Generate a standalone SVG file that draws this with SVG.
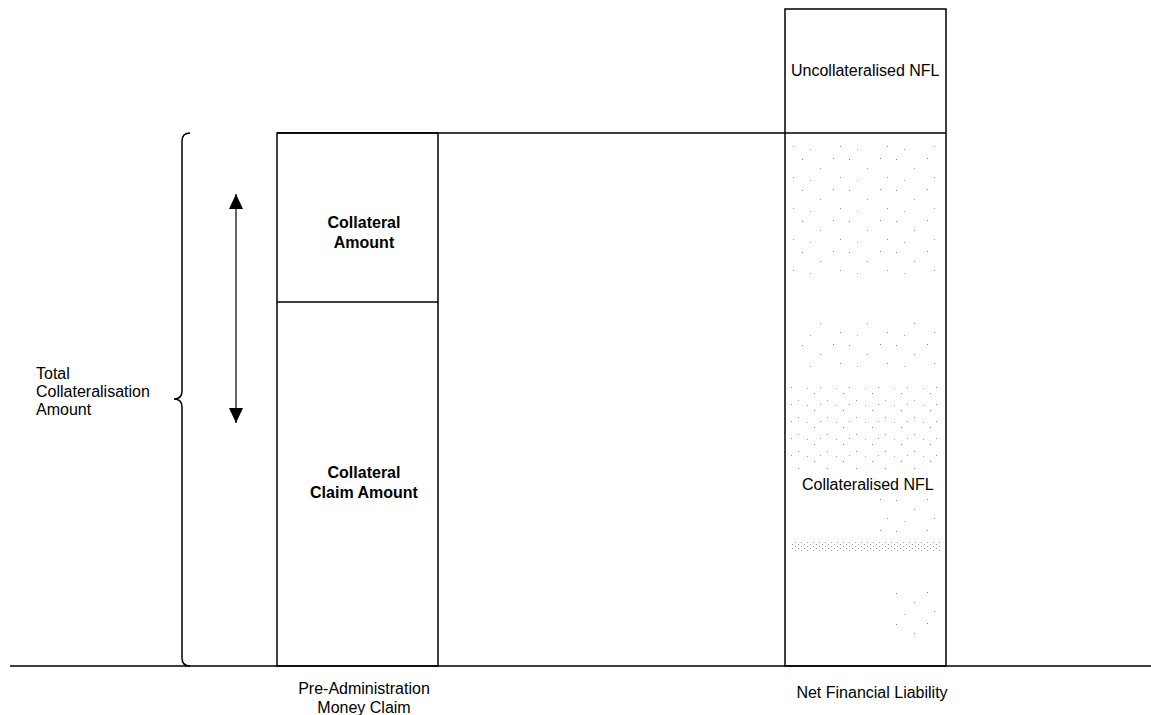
<svg xmlns="http://www.w3.org/2000/svg" width="1151" height="715" viewBox="0 0 1151 715">
  <defs>
    <style>
      .ln { fill: none; stroke: #000; stroke-width: 1.5; }
      .t { font-family: "Liberation Sans", Arial, sans-serif; font-size: 16px; fill: #000; }
      .b { font-weight: bold; text-anchor: middle; }
      .c { text-anchor: middle; }
    </style>
    <marker id="head" viewBox="0 0 15 14" refX="15" refY="7" markerWidth="15" markerHeight="14" markerUnits="userSpaceOnUse" orient="auto-start-reverse">
      <path d="M0,0 L15,7 L0,14 Z" fill="#000"/>
    </marker>
    <!-- sparse stipple used as shading of the collateralised part -->
    <pattern id="sparse" width="47" height="31" patternUnits="userSpaceOnUse">
      <rect x="3" y="4" width="1" height="1" fill="#888"/>
      <rect x="21" y="13" width="1" height="1" fill="#999"/>
      <rect x="34" y="3" width="1" height="1" fill="#888"/>
      <rect x="41" y="22" width="1" height="1" fill="#999"/>
      <rect x="11" y="25" width="1" height="1" fill="#aaa"/>
    </pattern>
    <pattern id="medium" width="29" height="17" patternUnits="userSpaceOnUse">
      <rect x="2" y="2" width="1" height="1" fill="#888"/>
      <rect x="15" y="9" width="1" height="1" fill="#999"/>
      <rect x="24" y="14" width="1" height="1" fill="#aaa"/>
      <rect x="8" y="13" width="1" height="1" fill="#999"/>
    </pattern>
    <pattern id="dense" width="6" height="4" patternUnits="userSpaceOnUse">
      <rect x="0" y="0" width="1" height="1" fill="#999"/>
      <rect x="3" y="2" width="1" height="1" fill="#aaa"/>
    </pattern>
  </defs>

  <!-- stippled shading inside the NFL bar -->
  <g id="shading">
    <rect x="790" y="140" width="152" height="140" fill="url(#sparse)"/>
    <rect x="795" y="320" width="145" height="50" fill="url(#sparse)"/>
    <rect x="790" y="385" width="152" height="85" fill="url(#medium)"/>
    <rect x="880" y="495" width="60" height="40" fill="url(#sparse)"/>
    <rect x="792" y="541" width="150" height="11" fill="url(#dense)"/>
    <rect x="890" y="590" width="50" height="50" fill="url(#sparse)"/>
  </g>

  <!-- axis baseline and shared top line -->
  <g id="connectors">
    <line class="ln" x1="10" y1="666" x2="1151" y2="666"/>
    <line class="ln" x1="277" y1="133" x2="946" y2="133"/>
    <!-- double-headed arrow -->
    <line class="ln" x1="236" y1="194" x2="236" y2="423" marker-start="url(#head)" marker-end="url(#head)" style="stroke-width:1.2"/>
    <!-- curly brace -->
    <path class="ln" d="M190,133 Q182,133 182,141 L182,391 Q182,399 174,399 Q182,399 182,407 L182,658 Q182,666 190,666"/>
  </g>

  <g id="pre-administration-claim">
    <rect class="ln" x="277" y="133" width="161" height="533"/>
    <line class="ln" x1="277" y1="302" x2="438" y2="302"/>
  </g>

  <g id="collateral-amount">
    <text class="t b" x="364" y="228">Collateral</text>
    <text class="t b" x="364" y="248">Amount</text>
  </g>

  <g id="collateral-claim-amount">
    <text class="t b" x="364" y="478">Collateral</text>
    <text class="t b" x="364" y="498">Claim Amount</text>
  </g>

  <g id="net-financial-liability">
    <rect class="ln" x="785" y="9" width="161" height="657"/>
  </g>

  <g id="uncollateralised-nfl">
    <text class="t" x="791" y="76">Uncollateralised NFL</text>
  </g>

  <g id="collateralised-nfl">
    <text class="t" x="802" y="490">Collateralised NFL</text>
  </g>

  <g id="total-collateralisation">
    <text class="t" x="36" y="379">Total</text>
    <text class="t" x="36" y="397">Collateralisation</text>
    <text class="t" x="36" y="415">Amount</text>
  </g>

  <g id="axis-labels">
    <text class="t c" x="364" y="694">Pre-Administration</text>
    <text class="t c" x="364" y="713">Money Claim</text>
    <text class="t c" x="872" y="698">Net Financial Liability</text>
  </g>
</svg>
